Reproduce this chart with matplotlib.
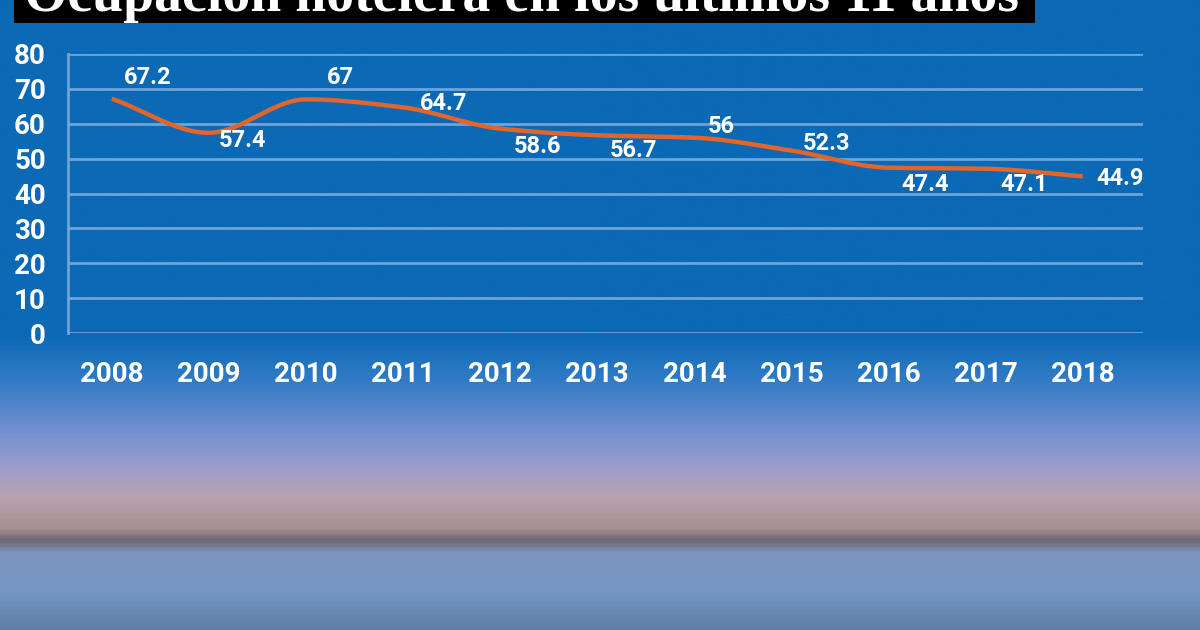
import matplotlib
matplotlib.use("Agg")
import matplotlib.pyplot as plt
import numpy as np
from matplotlib.colors import LinearSegmentedColormap
from matplotlib.patches import Rectangle

# %%
years = ["2008", "2009", "2010", "2011", "2012", "2013",
         "2014", "2015", "2016", "2017", "2018"]
ocupacion = [67.2, 57.4, 67, 64.7, 58.6, 56.7, 56, 52.3, 47.4, 47.1, 44.9]
value_labels = ["67.2", "57.4", "67", "64.7", "58.6", "56.7",
                "56", "52.3", "47.4", "47.1", "44.9"]
y_ticks = [0, 10, 20, 30, 40, 50, 60, 70, 80]
title = "Ocupación hotelera en los últimos 11 años"

# label offsets from each point, in pixels (right, down)
label_off = [(36, -21), (34, 8), (35, -22), (41, -4), (37, 18), (36, 15),
             (27, -11), (35, -7), (37, 17), (38, 16), (37, 2)]

blue = "#0b69b5"
grid_c = "#6ea4da"
orange = "#e2662a"
num_font = ["Roboto", "DejaVu Sans"]

W, H = 1200, 630
fig = plt.figure(figsize=(12, 6.3), dpi=100)
fig.patch.set_facecolor(blue)

# %% background: sky / skyline / water gradient for the lower part
bg = fig.add_axes([0, 0, 1, 1], zorder=0)
bg.set_axis_off()
cmap = LinearSegmentedColormap.from_list("photo", [
    (0.00, blue), (0.53, blue), (0.60, "#2f7ac4"), (0.68, "#6e8fd0"),
    (0.74, "#9a9ccc"), (0.79, "#b9a2b0"), (0.84, "#a88f92"),
    (0.86, "#6c6870"), (0.88, "#7d95c0"), (0.94, "#7597c6"), (1.00, "#5f7fa8")])
grad = np.linspace(0, 1, 400).reshape(-1, 1)
bg.imshow(grad, aspect="auto", cmap=cmap, extent=[0, 1, 0, 1], origin="upper")
bg.set_xlim(0, 1)
bg.set_ylim(0, 1)

# %% chart
ax = fig.add_axes([68 / W, 1 - 333 / H, (1143 - 68) / W, (333 - 54) / H], zorder=2)
ax.set_facecolor("none")
x = np.arange(len(years))


def pchip(xs, ys, n=30):
    xs = np.asarray(xs, float)
    ys = np.asarray(ys, float)
    h = np.diff(xs)
    d = np.diff(ys) / h
    m = np.zeros_like(ys)
    for k in range(1, len(ys) - 1):
        if d[k - 1] * d[k] > 0:
            m[k] = 2 / (1 / d[k - 1] + 1 / d[k])
    m[0], m[-1] = d[0], d[-1]
    px, py = [], []
    for k in range(len(xs) - 1):
        t = np.linspace(0, 1, n)
        h00 = 2 * t**3 - 3 * t**2 + 1
        h10 = t**3 - 2 * t**2 + t
        h01 = -2 * t**3 + 3 * t**2
        h11 = t**3 - t**2
        px.extend(xs[k] + t * h[k])
        py.extend(h00 * ys[k] + h10 * h[k] * m[k] + h01 * ys[k + 1] + h11 * h[k] * m[k + 1])
    return px, py


sx, sy = pchip(x, ocupacion)
ax.plot(sx, sy, color=orange, lw=3.2, solid_capstyle="butt", zorder=3)

for i, v in enumerate(ocupacion):
    dx, dy = label_off[i]
    ax.annotate(value_labels[i], (x[i], v), xytext=(dx * 0.72, -dy * 0.72),
                textcoords="offset points", ha="center", va="center",
                color="white", fontsize=17, fontweight="bold", family=num_font,
                zorder=4)

ax.set_xlim(-0.45, 10.62)
ax.set_ylim(0, 80)
ax.set_yticks(y_ticks)
ax.set_xticks(x)
ax.set_xticklabels(years)
ax.grid(axis="y", color=grid_c, lw=2)
ax.set_axisbelow(True)
for s in ["top", "right", "bottom"]:
    ax.spines[s].set_visible(False)
ax.spines["left"].set_color(grid_c)
ax.spines["left"].set_linewidth(2)
ax.tick_params(axis="both", length=0, colors="white")
ax.tick_params(axis="y", pad=16)
ax.tick_params(axis="x", pad=20)
for lab in ax.get_yticklabels() + ax.get_xticklabels():
    lab.set_fontsize(20)
    lab.set_fontweight("bold")
    lab.set_family(num_font)

# %% title, cut at top edge
fig.patches.append(Rectangle((14 / W, 1 - 23 / H), (1035 - 14) / W, 23 / H + 0.05,
                             transform=fig.transFigure, facecolor="black",
                             edgecolor="none", zorder=5))
t = fig.text(24 / W, 1 - 11 / H, title, color="white", fontsize=50,
             fontweight="bold", family="Liberation Serif", va="baseline", zorder=6)
fig.canvas.draw()
w = t.get_window_extent().width
t.set_fontsize(50 * 995 / w)

fig.savefig("out.png", dpi=100, facecolor=fig.get_facecolor())
